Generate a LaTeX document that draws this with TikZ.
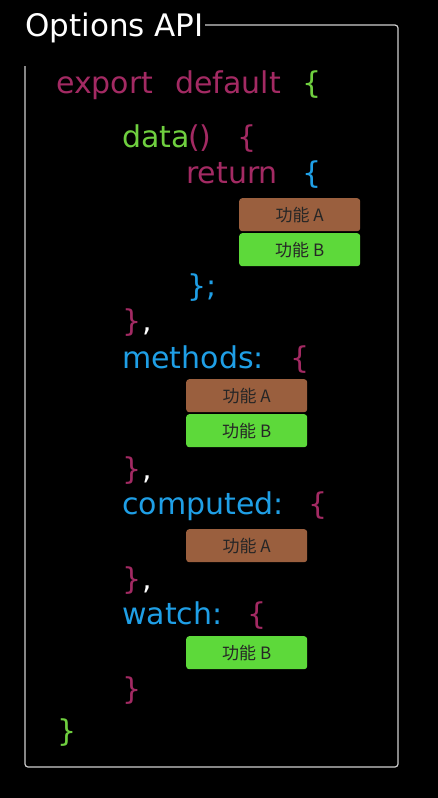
\documentclass[tikz,border=0pt]{standalone}
\usepackage{fontspec}
\setmainfont{DejaVu Sans}
\newfontfamily\cjkfont{Noto Sans CJK SC}
\definecolor{kwpink}{HTML}{A32A63}
\definecolor{kwgreen}{HTML}{6FCF3F}
\definecolor{kwblue}{HTML}{1F9FE6}
\definecolor{featbrown}{HTML}{9A5F3E}
\definecolor{featgreen}{HTML}{5DD93A}
\definecolor{framegray}{HTML}{CFCFCF}
\begin{document}
\begin{tikzpicture}[x=1pt,y=-1pt,
  tok/.style={anchor=base west, inner sep=0pt, font=\fontsize{30}{30}\selectfont},
  pink/.style={tok, text=kwpink},
  green/.style={tok, text=kwgreen},
  blue/.style={tok, text=kwblue},
  white/.style={tok, text=white},
  feat/.style={rounded corners=3pt, inner sep=0pt, minimum width=121pt, minimum height=33pt,
    anchor=north west, text=black!85, font=\cjkfont\fontsize{17}{17}\selectfont},
  featA/.style={feat, fill=featbrown},
  featB/.style={feat, fill=featgreen}]
% background and page size
\fill[black] (0,0) rectangle (438,798);
\useasboundingbox (0,0) rectangle (438,798);

% titled frame
\node[anchor=base west, inner sep=0pt, text=white, font=\fontsize{31}{31}\selectfont] (title) at (25,36) {Options API};
\coordinate (f1) at (205,25);
\coordinate (f2) at (398,25);
\coordinate (f3) at (398,767);
\coordinate (f4) at (25,767);
\coordinate (f5) at (25,66);
\draw[framegray, line width=1.2pt, rounded corners=3pt] (f1) -- (f2) -- (f3) -- (f4) -- (f5);

% export default {
\node[pink] (exp) at (56,93) {export};
\node[pink] (def) at (175,93) {default};
\node[green] (ob) at (302,93) {\{};

% data() { return { ... }; },
\node[green] (data) at (122,147) {data};
\node[pink] (dpar) at (188,147) {()};
\node[pink] (dob) at (237,147) {\{};
\node[pink] (ret) at (186,183) {return};
\node[blue] (rob) at (302,183) {\{};
\node[featA] (dA) at (239,198) {功能 A};
\node[featB] (dB) at (239,233) {功能 B};
\node[blue] (rcb) at (187,296) {\};};
\node[pink] (dcb) at (122,331) {\}};
\node[white] (dcm) at (142,331) {,};

% methods: { ... },
\node[blue] (meth) at (122,368) {methods:};
\node[pink] (mob) at (290,368) {\{};
\node[featA] (mA) at (186,379) {功能 A};
\node[featB] (mB) at (186,414) {功能 B};
\node[pink] (mcb) at (122,479) {\}};
\node[white] (mcm) at (142,479) {,};

% computed: { ... },
\node[blue] (comp) at (122,514) {computed:};
\node[pink] (cob) at (308,514) {\{};
\node[featA] (cA) at (186,529) {功能 A};
\node[pink] (ccb) at (122,589) {\}};
\node[white] (ccm) at (142,589) {,};

% watch: { ... }
\node[blue] (watch) at (122,624) {watch:};
\node[pink] (wob) at (247,624) {\{};
\node[featB] (wB) at (186,636) {功能 B};
\node[pink] (wcb) at (122,699) {\}};

% closing brace
\node[green] (cb) at (57,741) {\}};
\end{tikzpicture}
\end{document}
